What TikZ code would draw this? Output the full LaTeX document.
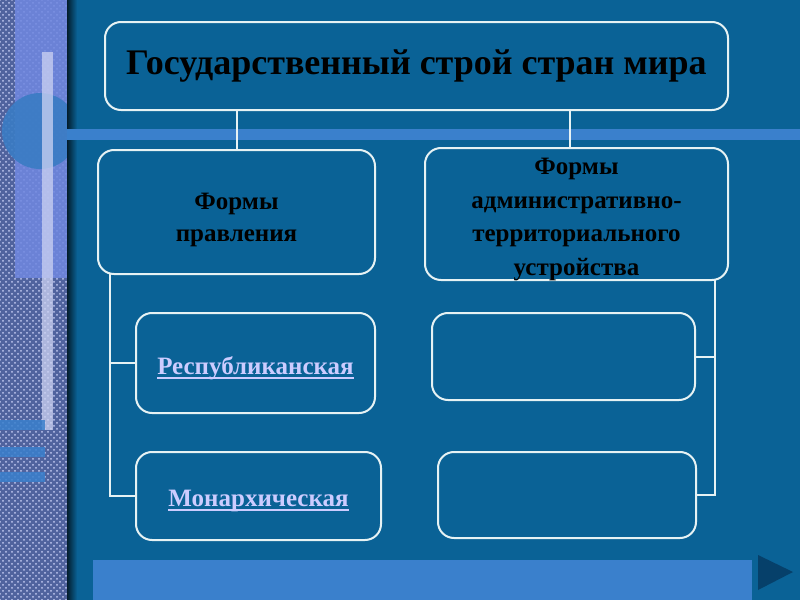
\documentclass[tikz,border=0pt]{standalone}
\usepackage{fontspec}
\setmainfont{Liberation Serif}
\usepackage{tikz}
\usetikzlibrary{positioning, calc, patterns}

\definecolor{slide}{HTML}{0A6296}
\definecolor{band}{HTML}{3A80CC}
\definecolor{strip}{HTML}{50639E}
\definecolor{stripdots}{HTML}{C0C8F0}
\definecolor{lilac}{HTML}{7088E0}
\definecolor{disc}{HTML}{3A7CC4}
\definecolor{edge}{HTML}{E6F2F4}
\definecolor{linktext}{HTML}{CCCCFF}
\definecolor{arrowdark}{HTML}{06406A}

% underlined link text
\newcommand{\linked}[1]{\setbox0\hbox{#1}\rlap{\rule[-2.2pt]{\wd0}{0.9pt}}\box0}

\tikzset{
    box/.style={draw=edge, line width=1pt, rounded corners=8pt, fill=slide, align=center, inner sep=2pt},
    head/.style={box, font=\fontsize{18}{20}\selectfont\bfseries},
    group/.style={box, font=\fontsize{12.5}{16.75}\selectfont\bfseries},
    item/.style={box, font=\fontsize{12.5}{15}\selectfont\bfseries, text=linktext},
    link/.style={draw=edge, line width=1pt}
}

\begin{document}
\begin{tikzpicture}[x=0.5pt, y=-0.5pt]
\useasboundingbox (0,0) rectangle (800,600);

% Slide background
\fill[slide] (0,0) rectangle (800,600);

% Textured strip on the left
\fill[strip] (0,0) rectangle (67,600);
\fill[pattern=crosshatch dots, pattern color=stripdots] (0,0) rectangle (67,600);
\fill[lilac, opacity=0.85] (15,0) rectangle (67,278);
\begin{scope}
    \clip (0,0) rectangle (67,600);
    \fill[disc, opacity=0.9] (40,131) circle (38);
\end{scope}
\fill[stripdots!80!white, opacity=0.75] (42,52) rectangle (53,430);
\foreach \y in {420,447,472} {
    \fill[band, opacity=0.85] (0,\y) rectangle (45,\y+10);
}
\shade[left color=black!70!slide, right color=slide] (67,0) rectangle (77,600);

% Bands
\fill[band] (67,129) rectangle (800,140);
\fill[band] (93,560) rectangle (752,600);
\fill[arrowdark] (758,555) -- (793,572) -- (758,590) -- cycle;

% Boxes
\node[head, minimum width=311.5pt, minimum height=44pt] (title) at (416.5,66) {Государственный строй стран мира};
\node[group, font=\fontsize{12.5}{16}\selectfont\bfseries, minimum width=138.5pt, minimum height=62pt, text height=32pt] (gov) at (236.5,212) {Формы\\правления};
\node[group, minimum width=151.5pt, minimum height=66pt, inner ysep=0pt, text height=63.5pt, text depth=2.5pt] (adm) at (576.5,214) {Формы\\административно-\\территориального\\устройства};
\node[item, minimum width=119.5pt, minimum height=50pt, text height=14pt] (rep) at (255.5,363) {\linked{Республиканская}};
\node[item, minimum width=122.5pt, minimum height=44pt, text height=13pt] (mon) at (258.5,496) {\linked{Монархическая}};
\node[item, minimum width=131.5pt, minimum height=43.5pt] (ter1) at (563.5,356.5) {};
\node[item, minimum width=129pt, minimum height=43pt] (ter2) at (567,495) {};

% Connectors
\coordinate (lt) at (110,274);
\coordinate (rt) at (715,280);
\coordinate (rtop) at (570,110);
\draw[link] (gov.north) -- (gov.north |- title.south);
\draw[link] (rtop) -- (rtop |- adm.north);
\draw[link] (lt) |- (rep.west);
\draw[link] (lt) |- (mon.west);
\draw[link] (rt) |- (ter1.east);
\draw[link] (rt) |- (ter2.east);

\end{tikzpicture}
\end{document}
